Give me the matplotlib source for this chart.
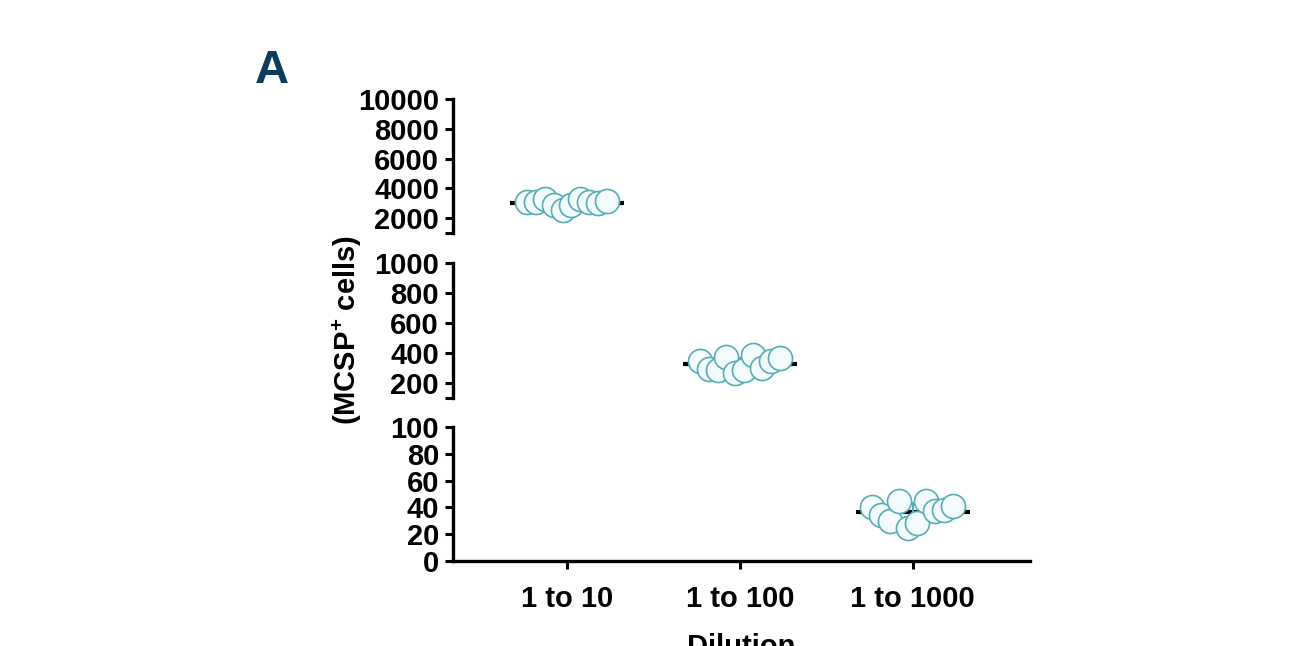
import numpy as np
import matplotlib
matplotlib.use("Agg")
import matplotlib.pyplot as plt

plt.rcParams['font.family'] = ['Liberation Sans', 'DejaVu Sans']
plt.rcParams['font.weight'] = 'bold'
plt.rcParams['mathtext.fontset'] = 'custom'
plt.rcParams['mathtext.rm'] = 'Liberation Sans:bold'
plt.rcParams['mathtext.bf'] = 'Liberation Sans:bold'
plt.rcParams['mathtext.it'] = 'Liberation Sans:bold'

# ---- data (values listed left-to-right as they appear in each column) ----
categories = ["1 to 10", "1 to 100", "1 to 1000"]
vals_1to10 = [3050, 3050, 3250, 2850, 2550, 2850, 3300, 3050, 3000, 3150]
vals_1to100 = [350, 295, 290, 375, 270, 290, 385, 300, 345, 365]
vals_1to1000 = [40, 34, 30, 45, 25, 28, 45, 37, 38, 41]
groups = [vals_1to10, vals_1to100, vals_1to1000]

# broken-axis segments (bottom, top) and ticks
seg_limits = [(1000, 10000), (100, 1000), (0, 100)]
seg_ticks = [[1000, 2000, 4000, 6000, 8000, 10000],
             [100, 200, 400, 600, 800, 1000],
             [0, 20, 40, 60, 80, 100]]
seg_labels = [["", "2000", "4000", "6000", "8000", "10000"],
              ["", "200", "400", "600", "800", "1000"],
              ["0", "20", "40", "60", "80", "100"]]

edge_c = '#55adb5'
fill_c = '#f3fbfc'
W, H = 1296, 646
fig = plt.figure(figsize=(W / 100, H / 100), dpi=100)

left = 453 / W
width = (1030 - 453) / W
seg_px = [(99, 233), (263, 398), (427, 561)]

axes = []
for i, (t, b) in enumerate(seg_px):
    ax = fig.add_axes([left, 1 - b / H, width, (b - t) / H])
    axes.append(ax)
    ax.set_xlim(-0.66, 2.68)
    ax.set_ylim(*seg_limits[i])
    ax.set_yticks(seg_ticks[i])
    ax.set_yticklabels(seg_labels[i])
    for s in ['top', 'right']:
        ax.spines[s].set_visible(False)
    ax.spines['left'].set_linewidth(2.4)
    ax.spines['bottom'].set_linewidth(2.4)
    ax.tick_params(axis='both', direction='out', length=6, width=2.2,
                   labelsize=21, pad=4)
    ax.patch.set_alpha(0)
    if i < 2:
        ax.spines['bottom'].set_visible(False)
        ax.set_xticks([])
    else:
        ax.set_xticks(range(len(categories)))
        ax.set_xticklabels(categories)
        ax.tick_params(axis='x', pad=11)
    for lab in ax.get_yticklabels() + ax.get_xticklabels():
        lab.set_fontweight('bold')

# each group is drawn in the segment that holds its values
for gi, vals in enumerate(groups):
    v = np.array(vals, dtype=float)
    lo_hi = [(lo, hi) for lo, hi in seg_limits]
    si = next(k for k, (lo, hi) in enumerate(lo_hi) if lo <= v.mean() <= hi)
    ax = axes[si]
    n = len(v)
    xs = gi + np.linspace(-0.232, 0.232, n)
    m = v.mean()
    sd = v.std(ddof=1)
    ax.plot([gi - 0.33, gi + 0.33], [m, m], color='black', lw=3.0,
            solid_capstyle='butt', zorder=2)
    ax.errorbar([gi], [m], yerr=[sd], color=edge_c, lw=1.5, capsize=3.5,
                capthick=1.5, zorder=2, fmt='none')
    ax.scatter(xs, v, s=300, facecolor=fill_c, edgecolor=edge_c,
               linewidth=1.2, zorder=3)

fig.text(347 / W, 1 - 330 / H, '(MCSP$^{+}$ cells)', rotation=90,
         ha='center', va='center', fontsize=21, fontweight='bold')
fig.text(741 / W, 1 - 633 / H, 'Dilution', ha='center', va='top',
         fontsize=21, fontweight='bold')
fig.text(255 / W, 1 - 83 / H, 'A', ha='left', va='baseline',
         fontsize=34, fontweight='bold', color='#0b3c5d')

fig.savefig('out.png', dpi=100)
